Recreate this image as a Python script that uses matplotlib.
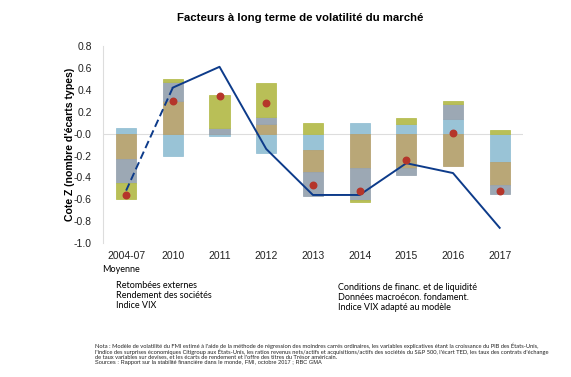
import matplotlib
matplotlib.use("Agg")
import matplotlib.pyplot as plt
import numpy as np

categories = ["2004-07", "2010", "2011", "2012", "2013", "2014", "2015", "2016", "2017"]
# stacked components (order of stacking: blue, tan, grey, olive)
retombees = [0.05, -0.20, -0.02, -0.18, -0.15, 0.10, 0.09, 0.13, -0.26]
rendement = [-0.23, 0.30, 0.00, 0.09, -0.20, -0.31, -0.31, -0.30, -0.21]
conditions = [-0.22, 0.17, 0.05, 0.06, -0.22, -0.30, -0.07, 0.14, -0.08]
donnees = [-0.15, 0.03, 0.30, 0.31, 0.10, -0.01, 0.05, 0.03, 0.03]
vix_model = [-0.56, 0.30, 0.34, 0.28, -0.47, -0.52, -0.24, 0.01, -0.52]
vix = [-0.52, 0.42, 0.61, -0.14, -0.56, -0.56, -0.27, -0.36, -0.86]

labels_left = ["Retombées externes", "Rendement des sociétés", "Indice VIX"]
labels_right = ["Conditions de financ. et de liquidité", "Données macroécon. fondament.",
                "Indice VIX adapté au modèle"]
label_mean = "Moyenne"

colors = ["#94C0D4", "#B6A270", "#97A4B0", "#B5BC4E"]

plt.rcParams['font.family'] = ['Liberation Sans', 'DejaVu Sans']
fig = plt.figure(figsize=(5.71, 3.77), dpi=100)
ax = fig.add_axes([0.180, 0.355, 0.736, 0.523])

x = np.arange(len(categories))
comps = [retombees, rendement, conditions, donnees]
pos_base = np.zeros(len(x))
neg_base = np.zeros(len(x))
for vals, c in zip(comps, colors):
    v = np.array(vals, dtype=float)
    bottom = np.where(v >= 0, pos_base, neg_base)
    ax.bar(x, v, 0.43, bottom=bottom, color=c, edgecolor=c, linewidth=0.6, alpha=0.95, zorder=2)
    pos_base = pos_base + np.where(v >= 0, v, 0)
    neg_base = neg_base + np.where(v < 0, v, 0)

ax.axhline(0, color="#DDDDDD", linewidth=0.8, zorder=1)
ax.plot(x[:2], vix[:2], color="#0D3B8A", linewidth=1.4, linestyle=(0, (4, 2)), zorder=3)
ax.plot(x[1:], vix[1:], color="#0D3B8A", linewidth=1.4, zorder=3)
ax.scatter(x, vix_model, s=22, color="#B5352A", zorder=4)

ax.set_xlim(-0.5, 8.5)
ax.set_ylim(-1.0, 0.8)
ax.set_yticks(np.arange(-1.0, 0.81, 0.2))
ax.set_yticklabels([f"{t:.1f}" for t in np.arange(-1.0, 0.81, 0.2)])
ax.set_xticks(x)
ax.set_xticklabels(categories)
ax.tick_params(length=0, labelsize=7.5, colors="#222222")
ax.tick_params(axis='y', pad=8)
ax.tick_params(axis='x', pad=6)
for s in ["top", "right", "bottom"]:
    ax.spines[s].set_visible(False)
ax.spines["left"].set_color("#DDDDDD")
ax.spines["left"].set_linewidth(0.8)
ax.set_ylabel("Cote Z (nombre d'écarts types)", fontsize=7.6, fontweight="bold", labelpad=-1)

fig.text(0.525, 0.953, "Facteurs à long terme de volatilité du marché", ha="center", va="center",
         fontsize=8.2, fontweight="bold")

lf = ['Lato', 'DejaVu Sans']
fig.text(102 / 571, 1 - 269 / 377, label_mean, fontsize=6.5, family=lf, va="center")
for i, t in enumerate(labels_left):
    fig.text(116 / 571, 1 - (286 + 10 * i) / 377, t, fontsize=6.5, family=lf, va="center")
for i, t in enumerate(labels_right):
    fig.text(338 / 571, 1 - (287 + 10 * i) / 377, t, fontsize=6.5, family=lf, va="center")

notes = [
    "Nota : Modèle de volatilité du FMI estimé à l'aide de la méthode de régression des moindres carrés ordinaires, les variables explicatives étant la croissance du PIB des États-Unis,",
    "l'indice des surprises économiques Citigroup aux États-Unis, les ratios revenus nets/actifs et acquisitions/actifs des sociétés du S&P 500, l'écart TED, les taux des contrats d'échange",
    "de taux variables sur devises, et les écarts de rendement et l'offre des titres du Trésor américain.",
]
for i, t in enumerate(notes):
    fig.text(95 / 571, 1 - (346 + 5.6 * i) / 377, t, fontsize=4.15, family=lf, va="center", color="#222222")
fig.text(95 / 571, 1 - 362.5 / 377, "Sources : Rapport sur la stabilité financière dans le monde, FMI, octobre 2017 ; RBC GMA",
         fontsize=4.1, va="center", color="#222222")

fig.savefig("out.png", dpi=100)
